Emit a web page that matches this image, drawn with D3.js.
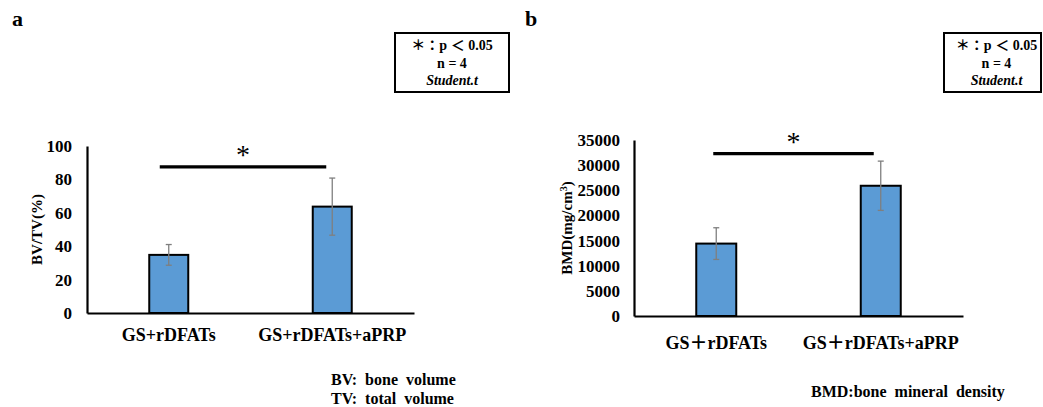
<!DOCTYPE html>
<html>
<head>
<meta charset="utf-8">
<script src="https://cdn.jsdelivr.net/npm/d3@7"></script>
<style>
  body { margin: 0; background: #fff; }
</style>
</head>
<body>
<div id="chart"></div>
<script>
// panel a values
const groupsA = ["GS+rDFATs", "GS+rDFATs+aPRP"]
const meanA = [34.8, 63.7]
const errA = [6.2, 17.1]
const ticksA = [0, 20, 40, 60, 80, 100]
const sigA = 87.5

// panel b values
const groupsB = ["GS\uFF0BrDFATs", "GS\uFF0BrDFATs+aPRP"]
const meanB = [14400, 25900]
const errB = [3150, 4900]
const ticksB = [0, 5000, 10000, 15000, 20000, 25000, 30000, 35000]
const sigB = 32300

const legendLines = ["\uFF0A\uFF1Ap \uFF1C 0.05", "n = 4", "Student.t"]

const barFill = "#5b9bd5"
const errColor = "#7f7f7f"
const serif = "'Liberation Serif', 'Noto Sans CJK JP', serif"

const svg = d3.select("#chart").append("svg")
  .attr("width", 1043)
  .attr("height", 407)
  .style("font-family", serif)
  .style("font-weight", "bold")

const drawPanel = (p) => {
  const x = d3.scaleBand().domain(p.groups).range([p.left, p.right]).padding(0)
  const y = d3.scaleLinear().domain([0, d3.max(p.ticks)]).range([p.bottom, p.top])
  const barW = p.barW

  // panel letter
  svg.append("text").attr("x", p.letterX).attr("y", 26)
    .style("font-size", "22px").text(p.letter)

  // legend box
  svg.append("rect")
    .attr("x", p.boxX).attr("y", 33).attr("width", p.boxW).attr("height", 59)
    .attr("fill", "white").attr("stroke", "black").attr("stroke-width", 2)
  svg.selectAll(null).data(legendLines).join("text")
    .attr("x", p.boxX + p.boxW / 2 + p.boxShift)
    .attr("y", (d, i) => 50 + i * 17.5)
    .attr("text-anchor", "middle")
    .style("font-size", "14px")
    .style("font-style", (d, i) => i == 2 ? "italic" : "normal")
    .text(d => d)

  // y axis
  const gy = svg.append("g")
    .attr("transform", `translate(${p.left},0)`)
    .call(d3.axisLeft(y).tickValues(p.ticks).tickSize(0).tickPadding(p.tickPad).tickFormat(d3.format("d")))
  gy.select(".domain").attr("stroke", "black").attr("stroke-width", 2.2)
  gy.selectAll("text").attr("fill", "black")
    .style("font-size", p.tickFont + "px").style("font-family", serif).style("font-weight", "bold")

  // x axis
  const gx = svg.append("g")
    .attr("transform", `translate(0,${p.bottom})`)
    .call(d3.axisBottom(x).tickSize(0).tickPadding(p.xPad).tickSizeOuter(0))
  gx.select(".domain").attr("stroke", "black").attr("stroke-width", 2.2)
  gx.selectAll("text").attr("fill", "black")
    .style("font-size", "18px").style("font-family", serif).style("font-weight", "bold")

  const data = p.groups.map((g, i) => ({g: g, m: p.means[i], e: p.errs[i]}))

  // bars
  svg.selectAll(null).data(data).join("rect")
    .attr("x", d => x(d.g) + x.bandwidth() / 2 - barW / 2)
    .attr("y", d => y(d.m))
    .attr("width", barW)
    .attr("height", d => y(0) - y(d.m))
    .attr("fill", barFill).attr("stroke", "black").attr("stroke-width", 2)

  // error bars
  const eb = svg.selectAll(null).data(data).join("g")
    .attr("stroke", errColor).attr("stroke-width", 1.3)
  eb.append("line")
    .attr("x1", d => x(d.g) + x.bandwidth() / 2).attr("x2", d => x(d.g) + x.bandwidth() / 2)
    .attr("y1", d => y(d.m + d.e)).attr("y2", d => y(d.m - d.e))
  eb.append("line")
    .attr("x1", d => x(d.g) + x.bandwidth() / 2 - 3).attr("x2", d => x(d.g) + x.bandwidth() / 2 + 3)
    .attr("y1", d => y(d.m + d.e)).attr("y2", d => y(d.m + d.e))
  eb.append("line")
    .attr("x1", d => x(d.g) + x.bandwidth() / 2 - 3).attr("x2", d => x(d.g) + x.bandwidth() / 2 + 3)
    .attr("y1", d => y(d.m - d.e)).attr("y2", d => y(d.m - d.e))

  // significance bar
  const c0 = x(p.groups[0]) + x.bandwidth() / 2
  const c1 = x(p.groups[1]) + x.bandwidth() / 2
  svg.append("line")
    .attr("x1", c0 - p.sigL).attr("x2", c1 - p.sigR)
    .attr("y1", y(p.sig)).attr("y2", y(p.sig))
    .attr("stroke", "black").attr("stroke-width", 3.2)
  svg.append("text")
    .attr("x", (c0 - p.sigL + c1 - p.sigR) / 2)
    .attr("y", y(p.sig) - 3)
    .attr("text-anchor", "middle")
    .style("font-size", "28px").style("font-weight", "normal")
    .text("*")

  // y title
  const yt = svg.append("text")
    .attr("transform", `translate(${p.yTitleX},${(p.top + p.bottom) / 2}) rotate(-90)`)
    .attr("text-anchor", "middle").attr("dy", "0.35em")
    .style("font-size", "15px")
  yt.append("tspan").text(p.yTitle)
  if (p.ySup) {
    yt.append("tspan").attr("baseline-shift", "super").style("font-size", "10px").text(p.ySup)
    yt.append("tspan").text(")")
  }

  // notes
  svg.selectAll(null).data(p.notes).join("text")
    .attr("x", p.noteX).attr("y", (d, i) => p.noteY + i * 19)
    .style("font-size", "16px").style("word-spacing", "4px")
    .text(d => d)
}

drawPanel({
  letter: "a", letterX: 12,
  groups: groupsA, means: meanA, errs: errA, ticks: ticksA, sig: sigA,
  left: 87, right: 414, top: 146, bottom: 313, barW: 39,
  tickPad: 15, tickFont: 17, xPad: 15,
  boxX: 395, boxW: 114, boxShift: 0,
  sigL: 9, sigR: 6,
  yTitleX: 37, yTitle: "BV/TV(%)",
  notes: ["BV: bone volume", "TV: total volume"], noteX: 331, noteY: 385
})

drawPanel({
  letter: "b", letterX: 525,
  groups: groupsB, means: meanB, errs: errB, ticks: ticksB, sig: sigB,
  left: 634, right: 963, top: 140, bottom: 316, barW: 40,
  tickPad: 14, tickFont: 17, xPad: 20,
  boxX: 944, boxW: 97, boxShift: 4,
  sigL: 3, sigR: 7,
  yTitleX: 567, yTitle: "BMD(mg/cm", ySup: "3",
  notes: ["BMD:bone mineral density"], noteX: 811, noteY: 397
})
</script>
</body>
</html>
